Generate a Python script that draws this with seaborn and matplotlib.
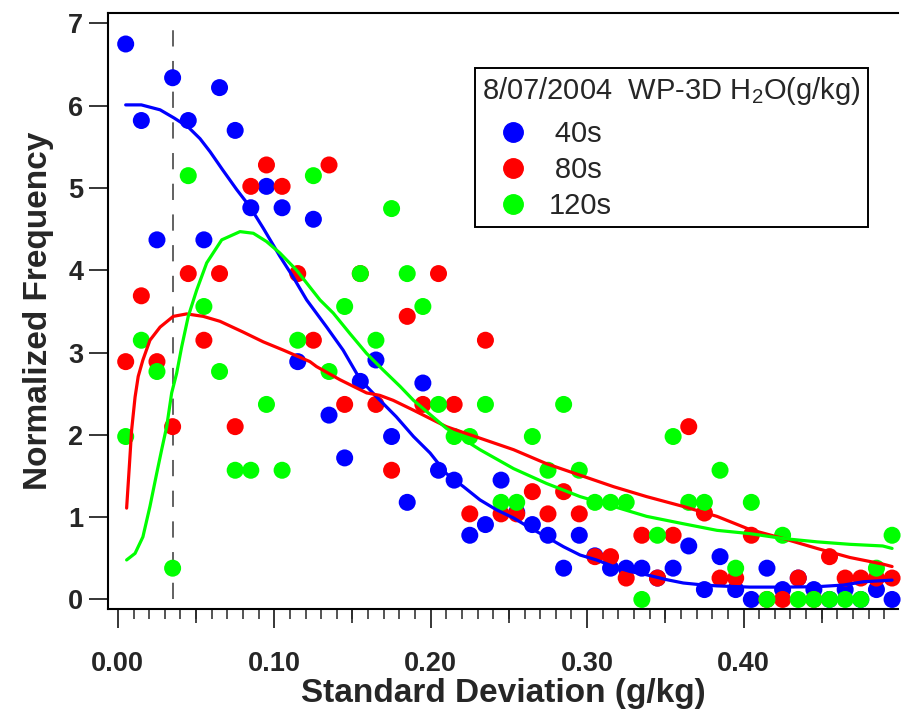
"""
Normalized frequency of H2O standard deviation, WP-3D 8/07/2004
three averaging windows (40s / 80s / 120s) + smoothed fit curves
"""

import pandas as pd
import matplotlib
matplotlib.use("Agg")
import matplotlib.pyplot as plt
from matplotlib.lines import Line2D
from matplotlib.ticker import FormatStrFormatter, FixedLocator
import seaborn as sns

sns.set_style("white")
plt.rcParams["font.family"] = ["Liberation Sans", "DejaVu Sans"]
plt.rcParams["mathtext.fontset"] = "custom"
plt.rcParams["mathtext.rm"] = "Liberation Sans"

# ─────────────────────────────────────────────
# DATA
# ─────────────────────────────────────────────
bin_sd = [0.005, 0.015, 0.025, 0.035, 0.045, 0.055, 0.065, 0.075, 0.085, 0.095,
          0.105, 0.115, 0.125, 0.135, 0.145, 0.155, 0.165, 0.175, 0.185, 0.195,
          0.205, 0.215, 0.225, 0.235, 0.245, 0.255, 0.265, 0.275, 0.285, 0.295,
          0.305, 0.315, 0.325, 0.335, 0.345, 0.355, 0.365, 0.375, 0.385, 0.395,
          0.405, 0.415, 0.425, 0.435, 0.445, 0.455, 0.465, 0.475, 0.485, 0.495]

freq_40s = [6.75, 5.82, 4.37, 6.34, 5.82, 4.37, 6.22, 5.70, 4.76, 5.02,
            4.76, 2.89, 4.62, 2.24, 1.72, 2.65, 2.91, 1.98, 1.18, 2.63,
            1.57, 1.45, 0.78, 0.91, 1.45, 1.06, 0.91, 0.78, 0.38, 0.78,
            0.53, 0.38, 0.38, 0.38, 0.26, 0.38, 0.65, 0.12, 0.52, 0.12,
            0.00, 0.38, 0.12, 0.26, 0.12, 0.00, 0.12, 0.00, 0.12, 0.00]

freq_80s = [2.89, 3.69, 2.89, 2.10, 3.96, 3.15, 3.96, 2.10, 5.02, 5.28,
            5.02, 3.96, 3.15, 5.28, 2.37, 3.96, 2.37, 1.57, 3.44, 2.37,
            3.96, 2.37, 1.04, 3.15, 1.04, 1.04, 1.31, 1.04, 1.31, 1.04,
            0.52, 0.52, 0.26, 0.78, 0.26, 0.78, 2.10, 1.05, 0.26, 0.26,
            0.78, 0.00, 0.00, 0.26, 0.00, 0.52, 0.26, 0.26, 0.26, 0.26]

freq_120s = [1.98, 3.15, 2.77, 0.38, 5.15, 3.56, 2.77, 1.57, 1.57, 2.37,
             1.57, 3.15, 5.15, 2.77, 3.56, 3.96, 3.15, 4.75, 3.96, 3.56,
             2.37, 1.98, 1.98, 2.37, 1.18, 1.18, 1.98, 1.57, 2.37, 1.57,
             1.18, 1.18, 1.18, 0.00, 0.78, 1.98, 1.18, 1.18, 1.57, 0.38,
             1.18, 0.00, 0.78, 0.00, 0.00, 0.00, 0.00, 0.00, 0.38, 0.78]

# smoothed fit curves
fit40_sd = [0.005, 0.015, 0.027, 0.036, 0.045, 0.0525, 0.059, 0.067, 0.076, 0.0845,
            0.093, 0.1036, 0.112, 0.1207, 0.1335, 0.144, 0.155, 0.1655, 0.178, 0.189,
            0.1996, 0.210, 0.221, 0.2315, 0.242, 0.253, 0.2635, 0.274, 0.285, 0.2955,
            0.306, 0.317, 0.3274, 0.338, 0.351, 0.3615, 0.372, 0.383, 0.404, 0.4255,
            0.447, 0.464, 0.4766, 0.495]
fit40_freq = [6.01, 6.01, 5.95, 5.85, 5.74, 5.60, 5.44, 5.22, 4.98, 4.77,
              4.51, 4.17, 3.92, 3.64, 3.31, 3.03, 2.67, 2.46, 2.22, 1.98,
              1.78, 1.53, 1.37, 1.21, 1.09, 0.99, 0.87, 0.76, 0.64, 0.54,
              0.48, 0.40, 0.34, 0.30, 0.24, 0.20, 0.18, 0.165, 0.15, 0.15,
              0.155, 0.175, 0.215, 0.235]

fit80_sd = [0.0056, 0.0073, 0.0088, 0.011, 0.013, 0.016, 0.0205, 0.027, 0.0354, 0.044,
            0.0546, 0.0653, 0.080, 0.093, 0.1058, 0.1228, 0.127, 0.142, 0.159, 0.1675,
            0.176, 0.189, 0.210, 0.2315, 0.253, 0.274, 0.2955, 0.317, 0.338, 0.3615,
            0.383, 0.404, 0.4255, 0.447, 0.468, 0.489, 0.495]
fit80_freq = [1.11, 1.61, 2.06, 2.46, 2.71, 2.91, 3.15, 3.31, 3.44, 3.47,
              3.44, 3.38, 3.25, 3.13, 3.03, 2.89, 2.83, 2.67, 2.51, 2.48,
              2.42, 2.30, 2.10, 1.96, 1.82, 1.65, 1.51, 1.37, 1.25, 1.13,
              1.01, 0.85, 0.74, 0.62, 0.51, 0.43, 0.40]

fit120_sd = [0.0056, 0.011, 0.016, 0.0205, 0.0248, 0.028, 0.0312, 0.0344, 0.0376, 0.0408,
             0.045, 0.0504, 0.0568, 0.0664, 0.0781, 0.0866, 0.095, 0.1036, 0.1143, 0.1292,
             0.1377, 0.1484, 0.159, 0.1695, 0.1804, 0.189, 0.210, 0.2315, 0.253, 0.274,
             0.2955, 0.317, 0.338, 0.3615, 0.383, 0.404, 0.4255, 0.447, 0.468, 0.489,
             0.495]
fit120_freq = [0.48, 0.56, 0.76, 1.13, 1.53, 1.82, 2.10, 2.51, 2.75, 3.07,
               3.44, 3.76, 4.09, 4.37, 4.47, 4.45, 4.35, 4.21, 4.00, 3.64,
               3.48, 3.23, 2.99, 2.79, 2.59, 2.42, 2.08, 1.82, 1.59, 1.41,
               1.25, 1.13, 1.01, 0.92, 0.84, 0.80, 0.74, 0.70, 0.67, 0.65,
               0.62]

windows = ["40s", "80s", "120s"]
legend_labels = ["\u200940s", "\u200980s", "120s"]
colors = {"40s": "#0000FF", "80s": "#FF0000", "120s": "#00FF00"}

cutoff_sd = 0.035
cutoff_span = [0, 7]

# ─────────────────────────────────────────────
# PLOT
# ─────────────────────────────────────────────
fig, ax = plt.subplots(figsize=(9.02, 7.11), dpi=100)
ax.set_position([0.1201, 0.1430, 0.8755, 0.8391])

pts = pd.DataFrame({
    "sd": bin_sd * 3,
    "freq": freq_40s + freq_80s + freq_120s,
    "window": ["40s"] * len(bin_sd) + ["80s"] * len(bin_sd) + ["120s"] * len(bin_sd),
})
sns.scatterplot(data=pts, x="sd", y="freq", hue="window", hue_order=windows,
                palette=colors, s=150, linewidth=0, legend=False,
                ax=ax, zorder=3, clip_on=False)

for w, xs, ys in [("40s", fit40_sd, fit40_freq),
                  ("80s", fit80_sd, fit80_freq),
                  ("120s", fit120_sd, fit120_freq)]:
    sns.lineplot(x=xs, y=ys, color=colors[w], linewidth=2.3, sort=False,
                 estimator=None, ax=ax, zorder=4)

ax.plot([cutoff_sd, cutoff_sd], cutoff_span, color="#555555", linewidth=1.3,
        dashes=(9, 8), zorder=2)

ax.set_xlim(-0.0061, 0.4988)
ax.set_ylim(-0.12, 7.13)

# ticks
ax.set_xticks([0.0, 0.1, 0.2, 0.3, 0.4])
ax.xaxis.set_minor_locator(FixedLocator([i / 100 for i in range(50)]))
ax.xaxis.set_major_formatter(FormatStrFormatter("%.2f"))
ax.set_yticks(range(8))
ax.tick_params(axis="x", which="major", direction="out", length=13.5, width=1.3,
               labelsize=19.5, pad=16.5, bottom=True)
ax.tick_params(axis="x", which="minor", direction="out", length=7.5, width=1.1,
               bottom=True)
ax.tick_params(axis="y", which="major", direction="out", length=14, width=1.3,
               labelsize=19.5, pad=4, left=True)
for lbl in ax.get_xticklabels() + ax.get_yticklabels():
    lbl.set_fontweight("bold")

# medium ticks at the half-decade marks
sec = ax.secondary_xaxis("bottom")
sec.set_xticks([0.05, 0.15, 0.25, 0.35, 0.45])
sec.tick_params(axis="x", direction="out", length=10, width=1.2, labelbottom=False)
sec.spines["bottom"].set_visible(False)

for side in ["left", "bottom", "top"]:
    ax.spines[side].set_linewidth(1.5)
    ax.spines[side].set_color("black")
ax.spines["right"].set_visible(False)

ax.set_xlabel("Standard Deviation (g/kg)", fontsize=24, fontweight="bold", labelpad=0.5)
ax.set_ylabel("Normalized Frequency", fontsize=24, fontweight="bold", labelpad=10)

# legend
handles = [Line2D([], [], ls="none", marker="o", markersize=14,
                  markerfacecolor=colors[w], markeredgecolor=colors[w]) for w in windows]
leg = ax.legend(handles, legend_labels,
                title="8/07/2004  WP-3D H$_\\mathrm{2}$O(g/kg)",
                loc="upper left", bbox_to_anchor=(0.464, 0.908),
                frameon=True, fancybox=False, edgecolor="black", framealpha=1,
                fontsize=21, title_fontsize=21, borderpad=0.25, labelspacing=0.27,
                handletextpad=0.2, borderaxespad=0, handlelength=2.1)
leg._legend_box.align = "left"
leg._legend_box.sep = 9.5
leg.get_frame().set_linewidth(1.4)

plt.savefig("out.png", dpi=100)
plt.close()
